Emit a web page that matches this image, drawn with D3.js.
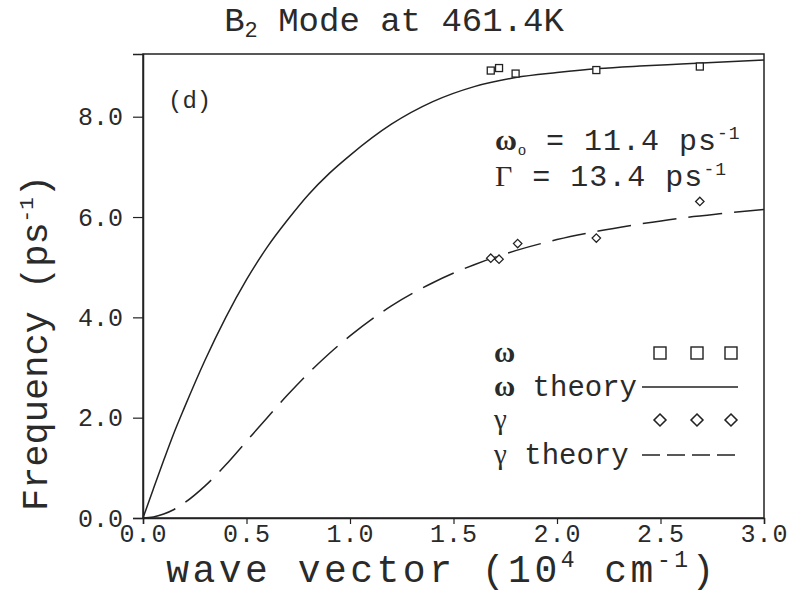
<!DOCTYPE html>
<html>
<head>
<meta charset="utf-8">
<script src="https://cdn.jsdelivr.net/npm/d3@7"></script>
<style>
  body { margin: 0; background: #fff; }
  svg { display: block; }
  text { font-family: "Liberation Mono", monospace; fill: #2a2a2a; }
  .greek { font-family: "Liberation Serif", serif; }
</style>
</head>
<body>
<div id="container"></div>
<script>
// measured points (wave vector in 10^4 cm^-1, frequency in ps^-1)
let omegaK = [1.68, 1.72, 1.80, 2.19, 2.69];
let omegaF = [8.92, 8.97, 8.86, 8.93, 9.00];
let gammaK = [1.68, 1.72, 1.81, 2.19, 2.69];
let gammaF = [5.18, 5.16, 5.47, 5.58, 6.31];

// theory curves
let theoryK = [0, 0.05, 0.1, 0.15, 0.2, 0.3, 0.4, 0.5, 0.6, 0.7, 0.8, 0.9, 1.0, 1.2, 1.4, 1.6, 1.8, 2.0, 2.2, 2.4, 2.6, 2.8, 3.0];
let omegaTheory = [0, 0.58, 1.15, 1.70, 2.20, 3.15, 4.00, 4.75, 5.40, 5.95, 6.45, 6.87, 7.23, 7.85, 8.30, 8.60, 8.78, 8.88, 8.96, 9.01, 9.05, 9.09, 9.13];
let gammaTheory = [0, 0.02, 0.08, 0.17, 0.30, 0.64, 1.06, 1.53, 2.00, 2.46, 2.89, 3.28, 3.63, 4.23, 4.69, 5.05, 5.33, 5.55, 5.72, 5.86, 5.98, 6.07, 6.15];

let xTicks = [0, 0.5, 1.0, 1.5, 2.0, 2.5, 3.0];
let yTicks = [0, 2, 4, 6, 8];

let w = 800, h = 595;
let plotL = 143, plotR = 764, plotT = 54, plotB = 518;

let svg = d3.select("#container").append("svg").attr("width", w).attr("height", h);

let x = d3.scaleLinear().domain([0, 3]).range([plotL, plotR]);
let y = d3.scaleLinear().domain([0, 9.25]).range([plotB, plotT]);

// frame
svg.append("rect")
  .attr("x", plotL).attr("y", plotT)
  .attr("width", plotR - plotL).attr("height", plotB - plotT)
  .attr("fill", "none").attr("stroke", "#222").attr("stroke-width", 1.5);

let xAxis = svg.append("g")
  .attr("transform", "translate(0," + plotB + ")")
  .call(d3.axisBottom(x).tickValues(xTicks).tickSize(6).tickPadding(0).tickFormat(d3.format(".1f")));
let yAxis = svg.append("g")
  .attr("transform", "translate(" + plotL + ",0)")
  .call(d3.axisLeft(y).tickValues(yTicks).tickSize(10).tickPadding(10).tickFormat(d3.format(".1f")));

[xAxis, yAxis].forEach(a => {
  a.select(".domain").attr("stroke", "#222").attr("stroke-width", 1.5);
  a.selectAll(".tick line").attr("stroke", "#222").attr("stroke-width", 1.2);
  a.selectAll(".tick text")
    .style("font-family", "Liberation Mono, monospace")
    .style("font-size", "25px").attr("fill", "#2a2a2a");
});
xAxis.selectAll(".tick text").style("letter-spacing", "1px");

// theory lines
let line = d3.line().x(d => x(d[0])).y(d => y(d[1])).curve(d3.curveMonotoneX);

svg.append("path")
  .datum(theoryK.map((k, i) => [k, omegaTheory[i]]))
  .attr("d", line)
  .attr("fill", "none").attr("stroke", "#222").attr("stroke-width", 1.5);

svg.append("path")
  .datum(theoryK.map((k, i) => [k, gammaTheory[i]]))
  .attr("d", line)
  .attr("fill", "none").attr("stroke", "#222").attr("stroke-width", 1.5)
  .attr("stroke-dasharray", "34,12");

// data points
let sq = 7;
svg.selectAll(".sq")
  .data(omegaK.map((k, i) => [k, omegaF[i]]))
  .enter().append("rect")
  .attr("x", d => x(d[0]) - sq / 2).attr("y", d => y(d[1]) - sq / 2)
  .attr("width", sq).attr("height", sq)
  .attr("fill", "#fff").attr("stroke", "#222").attr("stroke-width", 1.3);

let diamond = d3.symbol().type(d3.symbolDiamond2).size(45);
svg.selectAll(".dm")
  .data(gammaK.map((k, i) => [k, gammaF[i]]))
  .enter().append("path")
  .attr("d", diamond)
  .attr("transform", d => "translate(" + x(d[0]) + "," + y(d[1]) + ")")
  .attr("fill", "#fff").attr("stroke", "#222").attr("stroke-width", 1.3);

// title
let title = svg.append("text").attr("x", 394).attr("y", 31).attr("text-anchor", "middle").style("font-size", "34px");
title.append("tspan").text("B");
title.append("tspan").attr("dy", 6).style("font-size", "22px").text("2");
title.append("tspan").attr("dy", -6).text(" Mode at 461.4K");

// axis labels
let xl = svg.append("text").attr("x", 442).attr("y", 582).attr("text-anchor", "middle")
  .style("font-size", "38px").style("letter-spacing", "3.5px");
xl.append("tspan").text("wave vector (10");
xl.append("tspan").attr("dy", -15).style("font-size", "23px").text("4");
xl.append("tspan").attr("dy", 15).text(" cm");
xl.append("tspan").attr("dy", -15).style("font-size", "23px").text("-1");
xl.append("tspan").attr("dy", 15).text(")");

let yl = svg.append("text")
  .attr("transform", "translate(47,343) rotate(-90)")
  .attr("text-anchor", "middle").style("font-size", "37px");
yl.append("tspan").text("Frequency (ps");
yl.append("tspan").attr("dy", -14).style("font-size", "21px").text("-1");
yl.append("tspan").attr("dy", 14).text(")");

// panel tag
svg.append("text").attr("x", 168).attr("y", 108).style("font-size", "24px").text("(d)");

// parameters
let p1 = svg.append("text").attr("x", 495).attr("y", 150).style("font-size", "30px").style("letter-spacing", "1px");
p1.append("tspan").attr("class", "greek").style("font-weight", "bold").text("ω");
p1.append("tspan").attr("class", "greek").attr("dy", 5).style("font-size", "16px").text("o");
p1.append("tspan").attr("dy", -5).text(" = 11.4 ps");
p1.append("tspan").attr("dy", -11).style("font-size", "18px").text("-1");

let p2 = svg.append("text").attr("x", 495).attr("y", 186).style("font-size", "30px").style("letter-spacing", "1px");
p2.append("tspan").attr("class", "greek").text("Γ");
p2.append("tspan").text(" = 13.4 ps");
p2.append("tspan").attr("dy", -11).style("font-size", "18px").text("-1");

// legend
let legRows = [
  { label: "", greek: "ω", y: 353, kind: "square" },
  { label: " theory", greek: "ω", y: 387, kind: "solid" },
  { label: "", greek: "γ", y: 420, kind: "diamond" },
  { label: " theory", greek: "γ", y: 455, kind: "dashed" }
];
let legMarkX = [660, 697, 731];

legRows.forEach(r => {
  let t = svg.append("text").attr("x", 494).attr("y", r.y + 9).style("font-size", "29px");
  t.append("tspan").attr("class", "greek").style("font-weight", r.greek === "ω" ? "bold" : "normal").text(r.greek);
  t.append("tspan").text(r.label);
  if (r.kind === "square") {
    legMarkX.forEach(mx => svg.append("rect")
      .attr("x", mx - 6).attr("y", r.y - 6).attr("width", 12).attr("height", 12)
      .attr("fill", "#fff").attr("stroke", "#222").attr("stroke-width", 1.4));
  } else if (r.kind === "diamond") {
    legMarkX.forEach(mx => svg.append("path")
      .attr("d", d3.symbol().type(d3.symbolDiamond2).size(90))
      .attr("transform", "translate(" + mx + "," + r.y + ")")
      .attr("fill", "#fff").attr("stroke", "#222").attr("stroke-width", 1.6));
  } else {
    svg.append("line")
      .attr("x1", 642).attr("x2", 738).attr("y1", r.y).attr("y2", r.y)
      .attr("stroke", "#222").attr("stroke-width", 1.4)
      .attr("stroke-dasharray", r.kind === "dashed" ? "18,7" : null);
  }
});
</script>
</body>
</html>
